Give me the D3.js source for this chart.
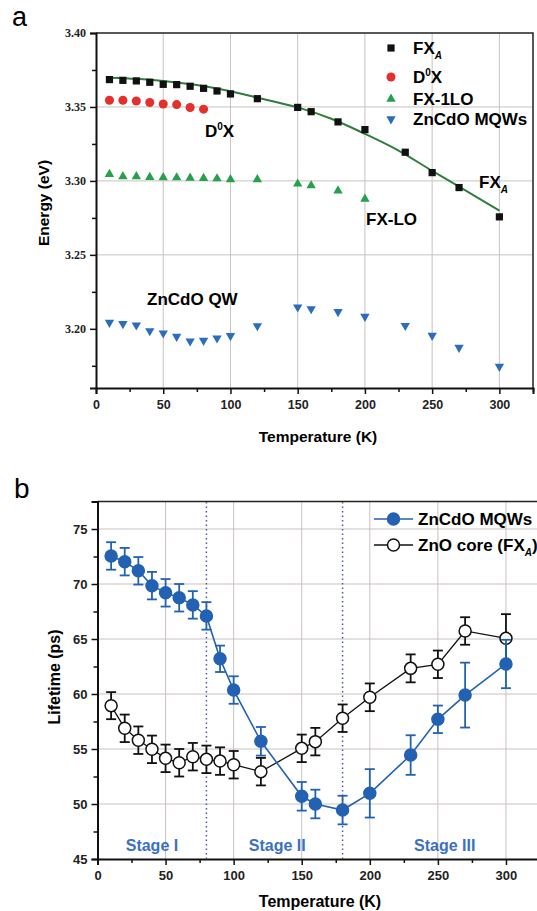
<!DOCTYPE html>
<html>
<head>
<meta charset="utf-8">
<script src="https://cdn.jsdelivr.net/npm/d3@7"></script>
<style>
  body { margin: 0; background: #fff; }
  text { font-family: "Liberation Sans", Arial, sans-serif; font-weight: bold; }
</style>
</head>
<body>
<div id="chart"></div>
<script>
// ---- panel a data (Energy vs T) ----
const fxaT = [10, 20, 30, 40, 50, 60, 70, 80, 90, 100, 120, 150, 160, 180, 200, 230, 250, 270, 300];
const fxaE = [3.3685, 3.368, 3.3676, 3.3667, 3.3653, 3.3651, 3.364, 3.3626, 3.3608, 3.3588, 3.3556, 3.3497, 3.3468, 3.3399, 3.3347, 3.3194, 3.3056, 3.2955, 3.2757];
const d0xT = [10, 20, 30, 40, 50, 60, 70, 80];
const d0xE = [3.3545, 3.3545, 3.354, 3.353, 3.352, 3.3516, 3.3496, 3.3485];
const loT = [10, 20, 30, 40, 50, 60, 70, 80, 90, 100, 120, 150, 160, 180, 200];
const loE = [3.3045, 3.303, 3.303, 3.3025, 3.3023, 3.3022, 3.302, 3.3018, 3.3016, 3.301, 3.301, 3.298, 3.2968, 3.2934, 3.2878];
const qwT = [10, 20, 30, 40, 50, 60, 70, 80, 90, 100, 120, 150, 160, 180, 200, 230, 250, 270, 300];
const qwE = [3.2043, 3.2034, 3.2025, 3.1986, 3.1971, 3.1948, 3.1917, 3.1921, 3.1937, 3.1953, 3.202, 3.2147, 3.2135, 3.2115, 3.2083, 3.2022, 3.1955, 3.1874, 3.1745];
const fitT = [10, 30, 50, 75, 100, 125, 150, 175, 200, 225, 250, 275, 300];
const fitE = [3.3698, 3.369, 3.3676, 3.3648, 3.3606, 3.3552, 3.3497, 3.342, 3.3318, 3.3205, 3.3068, 3.2935, 3.2799];

// ---- panel b data (Lifetime vs T) ----
const lifeT = [10, 20, 30, 40, 50, 60, 70, 80, 90, 100, 120, 150, 160, 180, 200, 230, 250, 270, 300];
const mqwLife = [72.55, 72.03, 71.2, 69.85, 69.2, 68.75, 68.1, 67.1, 63.2, 60.36, 55.7, 50.7, 50.0, 49.45, 50.97, 54.45, 57.7, 59.9, 62.73];
const mqwErr = [1.25, 1.25, 1.25, 1.25, 1.25, 1.25, 1.25, 1.25, 1.2, 1.25, 1.3, 1.3, 1.3, 1.3, 2.2, 1.8, 1.25, 2.95, 2.2];
const coreLife = [58.94, 56.88, 55.8, 54.97, 54.15, 53.75, 54.3, 54.06, 53.9, 53.57, 52.94, 55.06, 55.67, 57.8, 59.7, 62.33, 62.7, 65.73, 65.06];
const coreErr = [1.23, 1.25, 1.25, 1.25, 1.25, 1.25, 1.25, 1.25, 1.25, 1.25, 1.25, 1.25, 1.25, 1.25, 1.26, 1.27, 1.25, 1.25, 2.2];
const stageBounds = [80, 180];
const stageNames = ["Stage I", "Stage II", "Stage III"];
const stageMid = [40, 132, 255];

const xTicks = [0, 50, 100, 150, 200, 250, 300];
const xMinor = [25, 75, 125, 175, 225, 275, 325];
const eTicks = [3.20, 3.25, 3.30, 3.35, 3.40];
const eMinor = [3.175, 3.225, 3.275, 3.325, 3.375];
const lTicks = [45, 50, 55, 60, 65, 70, 75];
const lMinor = [47.5, 52.5, 57.5, 62.5, 67.5, 72.5, 77.5];

const BLUE = "#2361b2", GRID = "#c9c1c1";

let svg = d3.select("#chart").append("svg")
    .attr("width", 537).attr("height", 911)
    .style("background", "#fff");

function frame(g, x, y, xt, xm, yt, ym, yfmt, yFont, xFont, yFamily) {
    // grid
    g.append("g").selectAll("line").data(xt.slice(1)).join("line")
        .attr("x1", d => x(d)).attr("x2", d => x(d))
        .attr("y1", y.range()[0]).attr("y2", y.range()[1])
        .attr("stroke", GRID).attr("stroke-width", 1);
    g.append("g").selectAll("line").data(yt.slice(1).filter(d => d < y.domain()[1])).join("line")
        .attr("x1", x.range()[0]).attr("x2", x.range()[1])
        .attr("y1", d => y(d)).attr("y2", d => y(d))
        .attr("stroke", GRID).attr("stroke-width", 1);
    // top / right frame
    g.append("path")
        .attr("d", `M${x.range()[0]},${y.range()[1]}H${x.range()[1]}V${y.range()[0]}`)
        .attr("fill", "none").attr("stroke", "#222").attr("stroke-width", 1.5);
    let y0 = y.range()[0], x0 = x.range()[0];
    let ax = g.append("g").attr("transform", `translate(0,${y0})`)
        .call(d3.axisBottom(x).tickValues(xt).tickSize(6).tickPadding(6).tickFormat(d3.format("d")));
    g.append("g").attr("transform", `translate(0,${y0})`)
        .call(d3.axisBottom(x).tickValues(xm.filter(d => d <= x.domain()[1])).tickSize(4).tickFormat(""))
        .select(".domain").remove();
    ax.selectAll("text").attr("font-size", xFont).attr("fill", "#222")
        .style("font-family", '"Liberation Sans", Arial, sans-serif');
    let ay = g.append("g").attr("transform", `translate(${x0},0)`)
        .call(d3.axisLeft(y).tickValues(yt).tickSize(6).tickPadding(4).tickFormat(yfmt));
    g.append("g").attr("transform", `translate(${x0},0)`)
        .call(d3.axisLeft(y).tickValues(ym.filter(d => d <= y.domain()[1])).tickSize(4).tickFormat(""))
        .select(".domain").remove();
    ay.selectAll("text").attr("font-size", yFont).attr("fill", "#222").style("font-family", yFamily);
    g.selectAll(".domain").attr("stroke", "#111").attr("stroke-width", 2);
    g.selectAll(".tick line").attr("stroke", "#111").attr("stroke-width", 1.5);
}

// ================= panel a =================
let ga = svg.append("g");
let xA = d3.scaleLinear().domain([0, 325]).range([96, 533]);
let yA = d3.scaleLinear().domain([3.16, 3.40]).range([388, 33]);
frame(ga, xA, yA, xTicks, xMinor, eTicks, eMinor, d3.format(".2f"), 12, 12.5,
    '"Liberation Serif", "Times New Roman", serif');

ga.append("text").attr("x", 12).attr("y", 26).attr("font-size", 27)
    .style("font-weight", "normal").text("a");
ga.append("text").attr("transform", "translate(49,203) rotate(-90)")
    .attr("text-anchor", "middle").attr("font-size", 15.5).text("Energy (eV)");
ga.append("text").attr("x", 318).attr("y", 442)
    .attr("text-anchor", "middle").attr("font-size", 15.5).text("Temperature (K)");

ga.append("path")
    .datum(fitT.map((t, i) => [t, fitE[i]]))
    .attr("d", d3.line().x(d => xA(d[0])).y(d => yA(d[1])).curve(d3.curveMonotoneX))
    .attr("fill", "none").attr("stroke", "#2f7e3b").attr("stroke-width", 2);

const seriesA = [
    { name: "FX", sub: "A", T: fxaT, E: fxaE, sym: d3.symbolSquare, size: 52, color: "#111", rot: 0 },
    { name: "D", sup: "0", tail: "X", T: d0xT, E: d0xE, sym: d3.symbolCircle, size: 64, color: "#e4302c", rot: 0 },
    { name: "FX-1LO", T: loT, E: loE, sym: d3.symbolTriangle, size: 38, color: "#26a04b", rot: 0 },
    { name: "ZnCdO MQWs", T: qwT, E: qwE, sym: d3.symbolTriangle, size: 38, color: "#2a6dbf", rot: 180 }
];
const legendRowsA = [48, 77, 99, 119];

seriesA.forEach(function (s, k) {
    ga.append("g").selectAll("path")
        .data(s.T.map((t, i) => [t, s.E[i]]))
        .join("path")
        .attr("d", d3.symbol().type(s.sym).size(s.size))
        .attr("transform", d => `translate(${xA(d[0])},${yA(d[1])}) rotate(${s.rot})`)
        .attr("fill", s.color);
    let ly = legendRowsA[k];
    ga.append("path")
        .attr("d", d3.symbol().type(s.sym).size(s.size))
        .attr("transform", `translate(391,${ly}) rotate(${s.rot})`)
        .attr("fill", s.color);
    let t = ga.append("text").attr("x", 413).attr("y", ly + 6).attr("font-size", 17).text(s.name);
    if (s.sub) t.append("tspan").attr("font-size", 10).attr("dy", 5).style("font-style", "italic").text(s.sub);
    if (s.sup) {
        t.append("tspan").attr("font-size", 10).attr("dy", -7).text(s.sup);
        t.append("tspan").attr("dy", 7).text(s.tail);
    }
});

// annotations
let an1 = ga.append("text").attr("x", 205).attr("y", 137).attr("font-size", 17).text("D");
an1.append("tspan").attr("font-size", 10).attr("dy", -7).text("0");
an1.append("tspan").attr("dy", 7).text("X");
ga.append("text").attr("x", 366).attr("y", 225).attr("font-size", 17).text("FX-LO");
let an3 = ga.append("text").attr("x", 479).attr("y", 188).attr("font-size", 17).text("FX");
an3.append("tspan").attr("font-size", 10).attr("dy", 5).style("font-style", "italic").text("A");
ga.append("text").attr("x", 147).attr("y", 305).attr("font-size", 17).text("ZnCdO QW");

// ================= panel b =================
let gb = svg.append("g");
let xB = d3.scaleLinear().domain([0, 325]).range([97.5, 540]);
let yB = d3.scaleLinear().domain([45, 77.5]).range([859, 501.5]);
frame(gb, xB, yB, xTicks, xMinor, lTicks, lMinor, d3.format("d"), 13, 13,
    '"Liberation Sans", Arial, sans-serif');

gb.append("text").attr("x", 14).attr("y", 498).attr("font-size", 28)
    .style("font-weight", "normal").text("b");
gb.append("text").attr("transform", "translate(60,677) rotate(-90)")
    .attr("text-anchor", "middle").attr("font-size", 16).text("Lifetime (ps)");
gb.append("text").attr("x", 320).attr("y", 907)
    .attr("text-anchor", "middle").attr("font-size", 16).text("Temperature (K)");

gb.append("g").selectAll("line").data(stageBounds).join("line")
    .attr("x1", d => xB(d)).attr("x2", d => xB(d))
    .attr("y1", yB.range()[0]).attr("y2", yB.range()[1])
    .attr("stroke", "#4b58b0").attr("stroke-width", 1.5).attr("stroke-dasharray", "1.5,3");

gb.append("g").selectAll("text").data(stageNames).join("text")
    .attr("x", (d, i) => xB(stageMid[i])).attr("y", 851)
    .attr("text-anchor", "middle").attr("font-size", 16).attr("fill", "#3b70c2")
    .text(d => d);

const seriesB = [
    { name: "ZnO core (FX", sub: "A", tail: ")", L: coreLife, err: coreErr, color: "#111", fill: "#fff", lw: 1.3 },
    { name: "ZnCdO MQWs", L: mqwLife, err: mqwErr, color: BLUE, fill: BLUE, lw: 1.6 }
];

seriesB.forEach(function (s) {
    let pts = lifeT.map((t, i) => ({ t: t, v: s.L[i], e: s.err[i] }));
    let g = gb.append("g");
    g.append("path").datum(pts)
        .attr("d", d3.line().x(d => xB(d.t)).y(d => yB(d.v)))
        .attr("fill", "none").attr("stroke", s.color).attr("stroke-width", s.lw);
    let eb = g.append("g").selectAll("g").data(pts).join("g")
        .attr("stroke", s.color).attr("stroke-width", 1.8);
    eb.append("line").attr("x1", d => xB(d.t)).attr("x2", d => xB(d.t))
        .attr("y1", d => yB(d.v + d.e)).attr("y2", d => yB(d.v - d.e));
    eb.append("line").attr("x1", d => xB(d.t) - 5).attr("x2", d => xB(d.t) + 5)
        .attr("y1", d => yB(d.v + d.e)).attr("y2", d => yB(d.v + d.e));
    eb.append("line").attr("x1", d => xB(d.t) - 5).attr("x2", d => xB(d.t) + 5)
        .attr("y1", d => yB(d.v - d.e)).attr("y2", d => yB(d.v - d.e));
    g.append("g").selectAll("circle").data(pts).join("circle")
        .attr("cx", d => xB(d.t)).attr("cy", d => yB(d.v)).attr("r", 6)
        .attr("fill", s.fill).attr("stroke", s.color).attr("stroke-width", 1.5);
});

// legend b
[seriesB[1], seriesB[0]].forEach(function (s, k) {
    let ly = 519 + k * 26;
    gb.append("line").attr("x1", 374).attr("x2", 413).attr("y1", ly).attr("y2", ly)
        .attr("stroke", s.color).attr("stroke-width", 1.5);
    gb.append("circle").attr("cx", 393.5).attr("cy", ly).attr("r", 6)
        .attr("fill", s.fill).attr("stroke", s.color).attr("stroke-width", 1.5);
    let t = gb.append("text").attr("x", 418).attr("y", ly + 6).attr("font-size", 17).text(s.name);
    if (s.sub) {
        t.append("tspan").attr("font-size", 10).attr("dy", 5).style("font-style", "italic").text(s.sub);
        t.append("tspan").attr("dy", -5).text(s.tail);
    }
});
</script>
</body>
</html>
